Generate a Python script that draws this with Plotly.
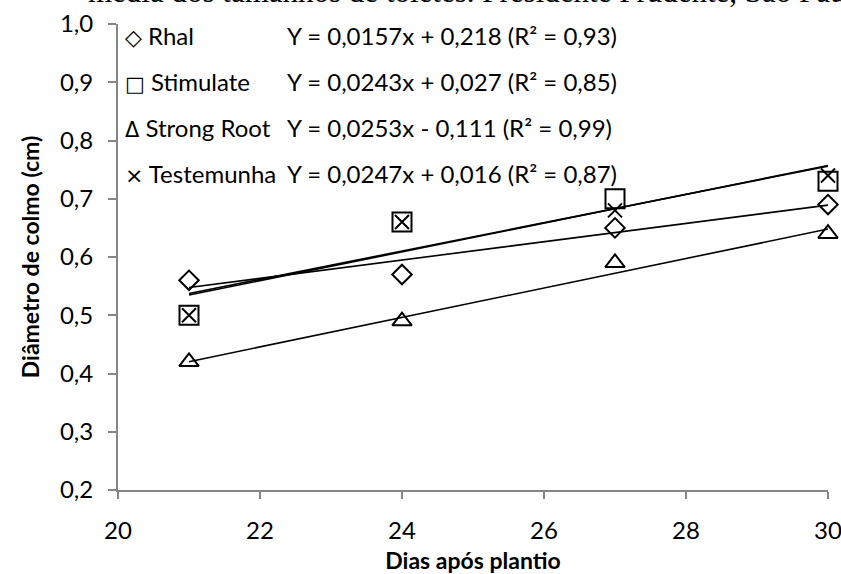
import plotly.graph_objects as go

# ---- data ----
dias = [21, 24, 27, 30]
series_names = ["Rhal", "Stimulate", "Strong Root", "Testemunha"]
rhal = [0.56, 0.57, 0.65, 0.69]
stimulate = [0.50, 0.66, 0.70, 0.73]
strong_root = [0.42, 0.49, 0.59, 0.64]
testemunha = [0.50, 0.66, 0.68, 0.74]
slopes = [0.0157, 0.0243, 0.0253, 0.0247]
intercepts = [0.218, 0.027, -0.111, 0.016]
r2 = [0.93, 0.85, 0.99, 0.87]
x_ticks = [20, 22, 24, 26, 28, 30]
y_ticks = [0.2, 0.3, 0.4, 0.5, 0.6, 0.7, 0.8, 0.9, 1.0]

values = [rhal, stimulate, strong_root, testemunha]
symbols = ["diamond-open", "square-open", "triangle-up-open", "x-thin-open"]
sizes = [15, 19, 17, 14]
legend_glyphs = ["\u25C7", "\u25A1", "\u0394", "\u00D7"]

W, H = 841, 574
L, R, T, B = 118, 13, 24, 84
PW, PH = W - L - R, H - T - B


def px_x(p):
    return (p - L) / PW


def px_y(p):
    return (H - B - p) / PH


FONT = "Lato"

fig = go.Figure()

# trend lines (from the equations shown on the chart)
for name, a, b in zip(series_names, slopes, intercepts):
    xs = [dias[0], dias[-1]]
    fig.add_trace(go.Scatter(
        x=xs, y=[a * v + b for v in xs], mode="lines",
        line=dict(color="black", width=1.6), showlegend=False,
        hoverinfo="skip", cliponaxis=False))

for name, vals, sym, sz in zip(series_names, values, symbols, sizes):
    fig.add_trace(go.Scatter(
        x=dias, y=vals, mode="markers", name=name,
        marker=dict(symbol=sym, size=sz, color="black",
                    line=dict(color="black", width=2)),
        showlegend=False, cliponaxis=False))

ann = []
rows_px = [35, 82, 128, 174]
glyph_sizes = [22, 21, 21, 22]
for i, name in enumerate(series_names):
    ann.append(dict(
        x=px_x(123), y=px_y(rows_px[i]), xref="paper", yref="paper",
        xanchor="left", yanchor="middle", showarrow=False,
        text=(f"<span style='font-family:DejaVu Sans;font-size:{glyph_sizes[i]}px'>"
              f"{legend_glyphs[i]}</span> {name}"),
        font=dict(family=FONT, size=24, color="black")))
    sign = "+" if intercepts[i] >= 0 else "-"
    eq = (f"Y = {slopes[i]:.4f}x {sign} {abs(intercepts[i]):.3f} "
          f"(R\u00B2 = {r2[i]:.2f})").replace(".", ",")
    ann.append(dict(
        x=px_x(285), y=px_y(rows_px[i]), xref="paper", yref="paper",
        xanchor="left", yanchor="middle", showarrow=False,
        text=eq, font=dict(family=FONT, size=24, color="black")))

# clipped caption line above the chart
ann.append(dict(
    x=px_x(86), y=px_y(11), xref="paper", yref="paper",
    xanchor="left", yanchor="bottom", showarrow=False,
    text="média dos tamanhos de toletes. Presidente Prudente, São Paulo",
    font=dict(family="Liberation Serif", size=31, color="black")))

fig.update_layout(
    width=W, height=H,
    margin=dict(l=L, r=R, t=T, b=B, autoexpand=False),
    paper_bgcolor="white", plot_bgcolor="white",
    separators=",.",
    font=dict(family=FONT, size=24, color="black"),
    annotations=ann,
    xaxis=dict(
        range=[20, 30], tickvals=x_ticks, showgrid=False, zeroline=False,
        automargin=False,
        showline=True, linecolor="#868686", linewidth=2,
        ticks="outside", ticklen=7, tickwidth=2, tickcolor="#868686",
        ticklabelstandoff=11, ticklabeloverflow="allow",
        title=dict(text="<b>Dias após plantio</b>", standoff=10,
                   font=dict(family=FONT, size=23))),
    yaxis=dict(
        range=[0.2, 1.0], tickvals=y_ticks, tickformat=".1f",
        showgrid=False, zeroline=False, automargin=False,
        showline=True, linecolor="#868686", linewidth=2,
        ticks="outside", ticklen=8, tickwidth=2, tickcolor="#868686",
        ticklabelstandoff=10,
        title=dict(text="<b>Diâmetro de colmo (cm)</b>", standoff=14,
                   font=dict(family=FONT, size=23))),
)

fig.write_html("out.html", config={"displayModeBar": False},
               post_script="document.body.style.margin='0';")
